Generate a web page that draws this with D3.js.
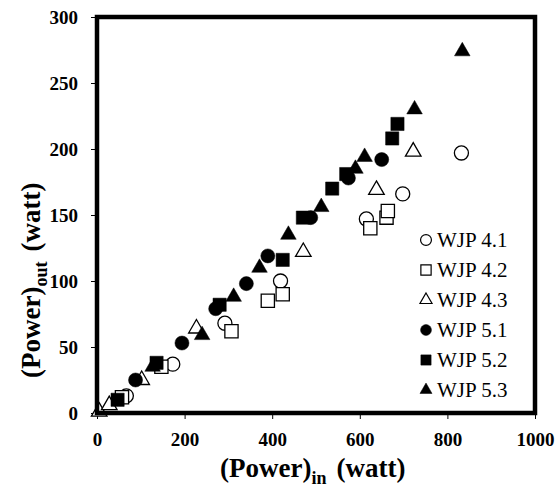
<!doctype html>
<html>
<head>
<meta charset="utf-8">
<script src="https://d3js.org/d3.v7.min.js"></script>
<style>
  body { margin: 0; background: #fff; }
  svg text { font-family: "Times New Roman", "Liberation Serif", "DejaVu Serif", serif !important; }
</style>
</head>
<body>
<svg id="chart"></svg>
<script>
// data: [power in, power out]
const wjp41 = [[67, 13], [173, 37], [292, 68], [419, 100], [615, 147], [698, 166], [832, 197]];
const wjp42 = [[57, 12], [147, 35], [307, 62], [390, 85], [424, 90], [624, 140], [661, 148], [664, 153]];
const wjp43 = [[5, 1], [28, 6], [102, 25], [227, 64], [471, 122], [638, 169], [722, 198]];
const wjp51 = [[88, 25], [194, 53], [271, 79], [341, 98], [390, 119], [488, 148], [574, 178], [650, 192]];
const wjp52 = [[47, 10], [136, 38], [280, 82], [424, 116], [470, 148], [537, 170], [569, 181], [674, 208], [686, 219]];
const wjp53 = [[127, 35], [240, 59], [312, 88], [371, 110], [437, 135], [512, 156], [590, 185], [611, 194], [725, 230], [834, 274]];

const seriesNames = ["WJP 4.1", "WJP 4.2", "WJP 4.3", "WJP 5.1", "WJP 5.2", "WJP 5.3"];
const xTicks = [0, 200, 400, 600, 800, 1000];
const yTicks = [0, 50, 100, 150, 200, 250, 300];

const series = [
  { name: seriesNames[0], values: wjp41, shape: d3.symbolCircle, filled: false },
  { name: seriesNames[1], values: wjp42, shape: d3.symbolSquare, filled: false },
  { name: seriesNames[2], values: wjp43, shape: d3.symbolTriangle, filled: false },
  { name: seriesNames[3], values: wjp51, shape: d3.symbolCircle, filled: true },
  { name: seriesNames[4], values: wjp52, shape: d3.symbolSquare, filled: true },
  { name: seriesNames[5], values: wjp53, shape: d3.symbolTriangle, filled: true }
];

const width = 558, height = 488;
const margin = { top: 17, right: 23, bottom: 75, left: 97 };
const serif = "'Times New Roman', 'Liberation Serif', serif";

const svg = d3.select("#chart").attr("width", width).attr("height", height);

const xScale = d3.scaleLinear().domain([0, 1000]).range([margin.left, width - margin.right]);
const yScale = d3.scaleLinear().domain([0, 300]).range([height - margin.bottom, margin.top]);

const sizes = { circle: 155, square: 175, triangle: 105 };
function symSize(shape, k) {
  let s = shape === d3.symbolCircle ? sizes.circle : shape === d3.symbolSquare ? sizes.square : sizes.triangle;
  return s * (k || 1);
}

// axes with outward ticks
const xAxis = svg.append("g")
  .attr("transform", `translate(0, ${yScale(0)})`)
  .call(d3.axisBottom(xScale).tickValues(xTicks).tickSize(6).tickPadding(14).tickFormat(d3.format("d")));
const yAxis = svg.append("g")
  .attr("transform", `translate(${xScale(0)}, 0)`)
  .call(d3.axisLeft(yScale).tickValues(yTicks).tickSize(6).tickPadding(13).tickFormat(d3.format("d")));

[xAxis, yAxis].forEach(a => {
  a.attr("font-family", serif).attr("font-size", 19).attr("font-weight", "bold");
  a.select(".domain").remove();
  a.selectAll(".tick line").attr("stroke", "#000").attr("stroke-width", 1);
  a.selectAll(".tick text").attr("fill", "#000");
});

// points
const plot = svg.append("g");
series.forEach(s => {
  plot.selectAll(null)
    .data(s.values)
    .join("path")
    .attr("d", d3.symbol().type(s.shape).size(symSize(s.shape)))
    .attr("transform", d => `translate(${xScale(d[0])}, ${yScale(d[1])})`)
    .attr("fill", s.filled ? "#000" : "#fff")
    .attr("stroke", "#000")
    .attr("stroke-width", s.filled ? 0.5 : 1.3);
});

// thick frame
svg.append("rect")
  .attr("x", xScale(0))
  .attr("y", yScale(300))
  .attr("width", xScale(1000) - xScale(0))
  .attr("height", yScale(0) - yScale(300))
  .attr("fill", "none")
  .attr("stroke", "#000")
  .attr("stroke-width", 4.5);

// legend
const legend = svg.append("g").attr("transform", "translate(426, 240)")
  .attr("font-family", serif).attr("font-size", 21);
series.forEach((s, i) => {
  const row = legend.append("g").attr("transform", `translate(0, ${i * 30})`);
  row.append("path")
    .attr("d", d3.symbol().type(s.shape).size(symSize(s.shape, 0.6)))
    .attr("fill", s.filled ? "#000" : "#fff")
    .attr("stroke", "#000")
    .attr("stroke-width", s.filled ? 0.5 : 1.2);
  row.append("text")
    .attr("x", 11)
    .attr("y", 7)
    .text(s.name);
});

// axis titles
const xt = svg.append("text")
  .attr("x", 220)
  .attr("y", 477)
  .attr("font-family", serif)
  .attr("font-size", 27)
  .attr("font-weight", "bold");
xt.append("tspan").text("(Power)");
xt.append("tspan").attr("dy", 7).attr("font-size", 18).text("in");
xt.append("tspan").attr("dy", -7).attr("dx", 10).text("(watt)");

const yt = svg.append("text")
  .attr("transform", "translate(40, 378) rotate(-90)")
  .attr("font-family", serif)
  .attr("font-size", 27)
  .attr("font-weight", "bold");
yt.append("tspan").text("(Power)");
yt.append("tspan").attr("dy", 7).attr("font-size", 18).text("out");
yt.append("tspan").attr("dy", -7).attr("dx", 10).text("(watt)");
</script>
</body>
</html>
